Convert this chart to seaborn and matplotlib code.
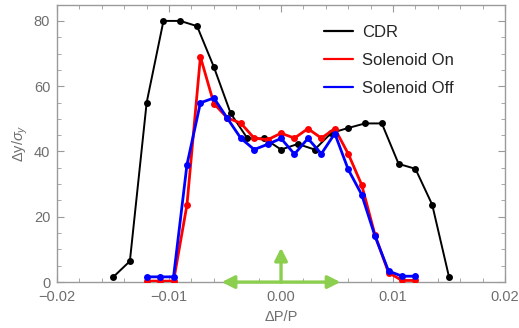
import matplotlib
matplotlib.use("Agg")
import matplotlib.pyplot as plt
from matplotlib.lines import Line2D
from matplotlib.ticker import MultipleLocator, FuncFormatter
import numpy as np
import pandas as pd
import seaborn as sns

# ---- data (x in units of dP/P) ----
cdr_x = [-0.015, -0.0135, -0.012, -0.0105, -0.009, -0.0075, -0.006, -0.0045, -0.003, -0.0015,
         0.0, 0.0015, 0.003, 0.0045, 0.006, 0.0075, 0.009, 0.0105, 0.012, 0.0135, 0.015]
cdr_y = [1.5, 6.4, 55.0, 80.0, 80.0, 78.4, 65.9, 51.7, 44.0, 44.0,
         40.6, 42.3, 40.6, 45.7, 47.2, 48.6, 48.6, 36.2, 34.7, 23.7, 1.6]

sol_x = [-0.012, -0.0108, -0.0096, -0.0084, -0.0072, -0.006, -0.0048, -0.0036, -0.0024, -0.0012,
         0.0, 0.0012, 0.0024, 0.0036, 0.0048, 0.006, 0.0072, 0.0084, 0.0096, 0.0108, 0.012]
on_y = [0.3, 0.3, 0.3, 23.7, 69.0, 54.7, 50.3, 48.7, 44.1, 43.6,
        45.6, 44.1, 47.0, 44.1, 47.0, 39.3, 29.8, 14.3, 2.9, 0.5, 0.5]
off_y = [1.6, 1.6, 1.6, 36.0, 54.9, 56.4, 50.2, 44.1, 40.6, 42.2,
         44.0, 39.2, 44.0, 39.3, 45.5, 34.5, 26.8, 14.0, 3.4, 1.8, 1.8]

series_names = ["CDR", "Solenoid On", "Solenoid Off"]
series_colors = ["#000000", "#FF0000", "#0000FF"]

df = pd.concat([
    pd.DataFrame({"x": cdr_x, "y": cdr_y, "series": "CDR"}),
    pd.DataFrame({"x": sol_x, "y": on_y, "series": "Solenoid On"}),
    pd.DataFrame({"x": sol_x, "y": off_y, "series": "Solenoid Off"}),
], ignore_index=True)

sns.set_style("ticks")
plt.rcParams["font.family"] = ["Liberation Sans", "DejaVu Sans"]
plt.rcParams["mathtext.fontset"] = "custom"
plt.rcParams["mathtext.it"] = "Liberation Sans:italic"
plt.rcParams["mathtext.rm"] = "Liberation Sans"

fig = plt.figure(figsize=(5.19, 3.28), dpi=100)
ax = fig.add_axes([0.110, 0.140, 0.863, 0.846])

widths = {"CDR": 1.4, "Solenoid On": 2.0, "Solenoid Off": 2.0}
for name, col in zip(series_names, series_colors):
    sub = df[df["series"] == name]
    sns.lineplot(data=sub, x="x", y="y", ax=ax, color=col, marker="o",
                 markersize=5, markeredgewidth=0, linewidth=widths[name],
                 legend=False, sort=False, zorder=3)

# green arrows
green = "#8CCF4E"
astyle = "-|>,head_length=0.75,head_width=0.38"
for tip in [(-0.0053, 0), (0.0053, 0), (0.0, 10.5)]:
    ax.annotate("", xy=tip, xytext=(0.0, 0),
                arrowprops=dict(arrowstyle=astyle, color=green, lw=2.4,
                                shrinkA=0, shrinkB=0), zorder=4, annotation_clip=False)

ax.set_xlim(-0.02, 0.02)
ax.set_ylim(0, 85)
ax.xaxis.set_major_locator(MultipleLocator(0.01))
ax.xaxis.set_minor_locator(MultipleLocator(0.002))
ax.yaxis.set_major_locator(MultipleLocator(20))
ax.yaxis.set_minor_locator(MultipleLocator(5))
ax.xaxis.set_major_formatter(FuncFormatter(lambda v, p: f"{v:.2f}".replace("-", "\u2212")))

spine_col = "#9a9a9a"
for s in ax.spines.values():
    s.set_color(spine_col)
    s.set_linewidth(1.0)
ax.tick_params(which="both", direction="in", top=True, right=True, colors=spine_col,
               labelcolor="#6e6e6e", labelsize=10.5)
ax.tick_params(which="major", length=5)
ax.tick_params(which="minor", length=3)
ax.tick_params(axis="x", pad=6)
ax.tick_params(axis="y", pad=5)

ax.set_xlabel("\u0394P/P", fontsize=10.5, color="#6e6e6e", labelpad=4)
ax.set_ylabel("\u0394y/$\\sigma_y$", fontsize=10.5, color="#6e6e6e", labelpad=3)

handles = [Line2D([0], [0], color=c, lw=1.6) for c in series_colors]
leg = ax.legend(handles, series_names, loc="upper right", frameon=False, fontsize=12,
                bbox_to_anchor=(0.92, 0.98), handlelength=1.75, labelspacing=0.78,
                handletextpad=0.55)

fig.savefig("out.png", dpi=100)
